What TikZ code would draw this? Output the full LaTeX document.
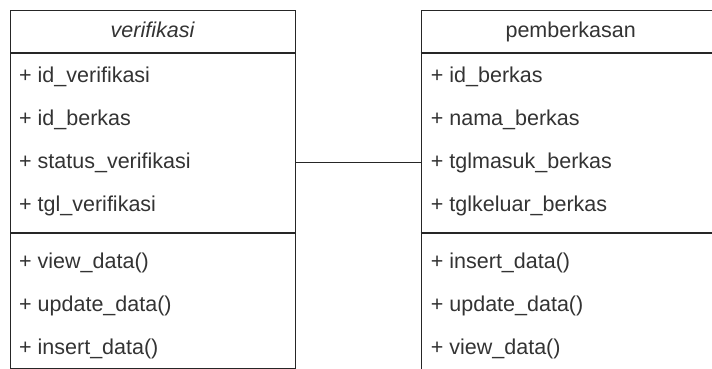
\documentclass[tikz,border=0pt]{standalone}
\usepackage{fontspec}
\setmainfont{Liberation Sans}
\usetikzlibrary{positioning}
\newcommand{\BoxShift}{410.7}
\newcommand{\RowGap}{43}

\tikzset{
  classbox/.style={draw=black!85, line width=1.4pt, rectangle, anchor=north west,
    inner sep=0pt, minimum width=285pt},
  sepline/.style={draw=black!85, line width=1.4pt},
  member/.style={anchor=base west, inner sep=0pt, text=black!80,
    font=\fontsize{21.5}{25}\selectfont},
  classname/.style={anchor=base, inner sep=0pt, text=black!80,
    font=\fontsize{21.5}{25}\selectfont}
}

\begin{document}
\begin{tikzpicture}[x=1pt, y=-1pt]
\useasboundingbox (0,0) rectangle (712,369);
\clip (0,0) rectangle (712,369);

% class verifikasi
\node [classbox, minimum height=358pt] (verif) at (10,10) {};
\node [classname] (verifName) at (152.5,38) {\itshape verifikasi};
\draw [sepline] (verif.west |- 0,53) -- (verif.east |- 0,53);
\node [member] (idv) at (19,82) {+ id\_verifikasi};
\node [member] (idbv) at (19,82+\RowGap) {+ id\_berkas};
\node [member] (statusv) at (19,82+2*\RowGap) {+ status\_verifikasi};
\node [member] (tglv) at (19,82+3*\RowGap) {+ tgl\_verifikasi};
\draw [sepline] (verif.west |- 0,233) -- (verif.east |- 0,233);
\node [member] (viewv) at (19,268) {+ view\_data()};
\node [member] (updatev) at (19,268+\RowGap) {+ update\_data()};
\node [member] (insertv) at (19,268+2*\RowGap) {+ insert\_data()};

% class pemberkasan
\node [classbox, minimum height=366pt, minimum width=292pt] (berkas) at (\BoxShift + 10,10) {};
\node [classname] (berkasName) at (\BoxShift + 160,38) {pemberkasan};
\draw [sepline] (berkas.west |- 0,53) -- (berkas.east |- 0,53);
\node [member] (idb) at (\BoxShift + 20,82) {+ id\_berkas};
\node [member] (namab) at (\BoxShift + 20,82+\RowGap) {+ nama\_berkas};
\node [member] (masukb) at (\BoxShift + 20,82+2*\RowGap) {+ tglmasuk\_berkas};
\node [member] (keluarb) at (\BoxShift + 20,82+3*\RowGap) {+ tglkeluar\_berkas};
\draw [sepline] (berkas.west |- 0,233) -- (berkas.east |- 0,233);
\node [member] (insertb) at (\BoxShift + 20,268) {+ insert\_data()};
\node [member] (updateb) at (\BoxShift + 20,268+\RowGap) {+ update\_data()};
\node [member] (viewb) at (\BoxShift + 20,268+2*\RowGap) {+ view\_data()};

% association
\draw [sepline] (verif.east |- statusv) -- (berkas.west |- statusv);

\end{tikzpicture}
\end{document}
